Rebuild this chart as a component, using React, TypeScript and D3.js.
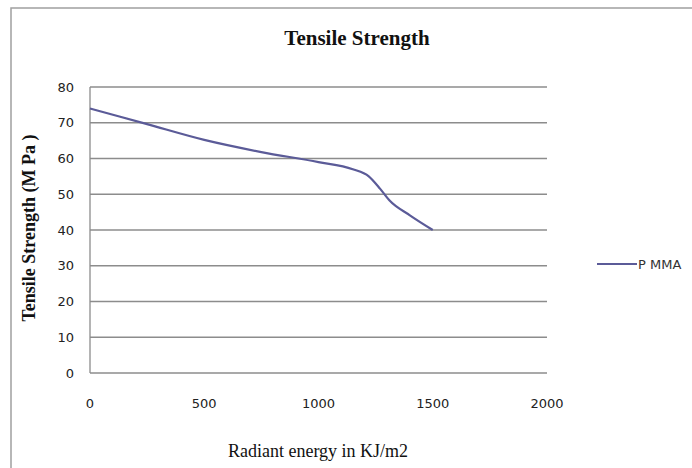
import * as d3 from "d3"
import { useEffect, useRef } from "react"

// data
const energy = [0, 250, 500, 750, 1000, 1150, 1220, 1270, 1310, 1400, 1500]
const strength = [74, 69.6, 65.2, 61.8, 59, 57, 55, 51.5, 48.3, 44.1, 40]
const seriesName = "P MMA"
const xTicks = [0, 500, 1000, 1500, 2000]
const yTicks = [0, 10, 20, 30, 40, 50, 60, 70, 80]

const W = 692
const H = 468

export default function App() {
  const svgRef = useRef<SVGSVGElement>(null)

  useEffect(() => {
    if (!svgRef.current) return
    const svg = d3.select(svgRef.current)
    svg.selectAll("*").remove()

    const left = 90
    const right = 547
    const top = 87
    const bottom = 373

    // outer chart border
    svg
      .append("rect")
      .attr("x", 11)
      .attr("y", 8)
      .attr("width", W + 20)
      .attr("height", H + 20)
      .attr("fill", "white")
      .attr("stroke", "#a0a0a0")
      .attr("stroke-width", 1.5)

    const x = d3.scaleLinear().domain([0, 2000]).range([left, right])
    const y = d3.scaleLinear().domain([0, 80]).range([bottom, top])

    // gridlines
    svg
      .append("g")
      .selectAll("line")
      .data(yTicks)
      .join("line")
      .attr("x1", left)
      .attr("x2", right)
      .attr("y1", (d) => y(d))
      .attr("y2", (d) => y(d))
      .attr("stroke", "#8c8c8c")
      .attr("stroke-width", 1.3)

    // left axis line
    svg
      .append("line")
      .attr("x1", left)
      .attr("x2", left)
      .attr("y1", top)
      .attr("y2", bottom)
      .attr("stroke", "#8c8c8c")
      .attr("stroke-width", 1.3)

    const tickFont = "'DejaVu Sans', sans-serif"

    // y tick labels
    svg
      .append("g")
      .selectAll("text")
      .data(yTicks)
      .join("text")
      .attr("x", 74)
      .attr("y", (d) => y(d))
      .attr("dy", "0.35em")
      .attr("text-anchor", "end")
      .style("font-family", tickFont)
      .style("font-size", "13px")
      .attr("fill", "#222")
      .text((d) => d)

    // x tick labels
    svg
      .append("g")
      .selectAll("text")
      .data(xTicks)
      .join("text")
      .attr("x", (d) => x(d))
      .attr("y", 403)
      .attr("dy", "0.35em")
      .attr("text-anchor", "middle")
      .style("font-family", tickFont)
      .style("font-size", "13px")
      .attr("fill", "#222")
      .text((d) => d)

    // series line
    const pts = energy.map((e, i) => [e, strength[i]] as [number, number])
    const line = d3
      .line<[number, number]>()
      .x((d) => x(d[0]))
      .y((d) => y(d[1]))
      .curve(d3.curveMonotoneX)

    svg
      .append("path")
      .datum(pts)
      .attr("d", line)
      .attr("fill", "none")
      .attr("stroke", "#5b5b98")
      .attr("stroke-width", 2.2)

    // title
    svg
      .append("text")
      .attr("x", 357)
      .attr("y", 45)
      .attr("text-anchor", "middle")
      .style("font-family", "'Liberation Serif', serif")
      .style("font-size", "21px")
      .style("font-weight", "bold")
      .attr("fill", "#111")
      .text("Tensile Strength")

    // x axis title
    svg
      .append("text")
      .attr("x", 318)
      .attr("y", 457)
      .attr("text-anchor", "middle")
      .style("font-family", "'Liberation Serif', serif")
      .style("font-size", "18px")
      .attr("fill", "#111")
      .text("Radiant energy in KJ/m2")

    // y axis title
    svg
      .append("text")
      .attr("transform", `translate(35,228) rotate(-90)`)
      .attr("text-anchor", "middle")
      .style("font-family", "'Liberation Serif', serif")
      .style("font-size", "18px")
      .style("font-weight", "bold")
      .attr("fill", "#111")
      .text("Tensile Strength (M Pa )")

    // legend
    const legend = svg.append("g").attr("transform", "translate(597,264)")
    legend
      .append("line")
      .attr("x1", 0)
      .attr("x2", 40)
      .attr("stroke", "#5b5b98")
      .attr("stroke-width", 2.2)
    legend
      .append("text")
      .attr("x", 41)
      .attr("dy", "0.35em")
      .style("font-family", tickFont)
      .style("font-size", "13px")
      .attr("fill", "#333")
      .text(seriesName)
  }, [])

  return (
    <div style={{ position: "absolute", left: 0, top: 0 }}>
      <svg ref={svgRef} width={W} height={H} style={{ display: "block" }} />
    </div>
  )
}
